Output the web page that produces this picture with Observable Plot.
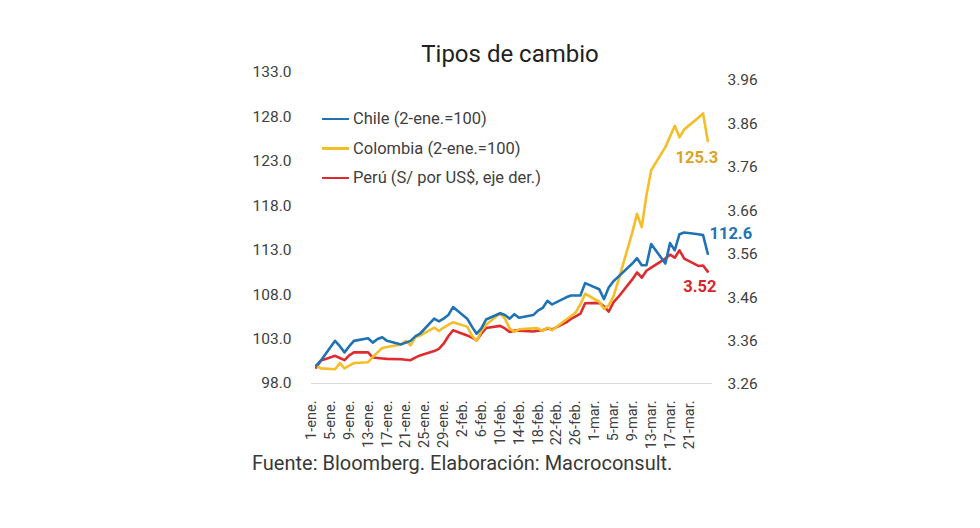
<!DOCTYPE html>
<html>
<head>
<meta charset="utf-8">
<script src="https://cdn.jsdelivr.net/npm/d3@7"></script>
<script src="https://cdn.jsdelivr.net/npm/@observablehq/plot@0.6"></script>
<style>
  html, body { margin: 0; padding: 0; background: #fff; }
  #wrap { position: relative; width: 980px; height: 528px; font-family: Roboto, "Open Sans", sans-serif; color: #333; }
  #chart { position: absolute; left: 0; top: 0; }
  #title { position: absolute; left: 360px; width: 300px; top: 40px; text-align: center; font-size: 24px; line-height: 28px; color: #222; }
  #caption { position: absolute; left: 252px; top: 452px; font-size: 20px; line-height: 22px; color: #383838; white-space: nowrap; }
  #legend { position: absolute; left: 322px; top: 104px; font-size: 16.5px; color: #404040; }
  .item { display: flex; align-items: center; height: 29.5px; white-space: nowrap; }
  .swatch { width: 27px; height: 2.5px; margin-right: 4px; }
</style>
</head>
<body>
<div id="wrap">
  <div id="chart"></div>
  <div id="title">Tipos de cambio</div>
  <div id="legend"></div>
  <div id="caption">Fuente: Bloomberg. Elaboración: Macroconsult.</div>
</div>
<script>
// ---- data ----
const dates = [
  "2020-01-02","2020-01-03","2020-01-06","2020-01-07","2020-01-08","2020-01-09","2020-01-10",
  "2020-01-13","2020-01-14","2020-01-15","2020-01-16","2020-01-17","2020-01-20","2020-01-21",
  "2020-01-22","2020-01-23","2020-01-24","2020-01-27","2020-01-28","2020-01-29","2020-01-30","2020-01-31",
  "2020-02-03","2020-02-04","2020-02-05","2020-02-06","2020-02-07","2020-02-10","2020-02-11",
  "2020-02-12","2020-02-13","2020-02-14","2020-02-17","2020-02-18","2020-02-19","2020-02-20",
  "2020-02-21","2020-02-24","2020-02-25","2020-02-26","2020-02-27","2020-02-28",
  "2020-03-02","2020-03-03","2020-03-04","2020-03-05","2020-03-06","2020-03-09","2020-03-10",
  "2020-03-11","2020-03-12","2020-03-13","2020-03-16","2020-03-17","2020-03-18","2020-03-19",
  "2020-03-20","2020-03-23","2020-03-24","2020-03-25"
];
const chile = [
  100.0,100.6,102.8,102.2,101.5,102.2,102.8,103.1,102.6,103.0,103.2,102.8,102.4,102.6,102.8,103.3,103.6,105.3,105.0,105.3,105.7,106.6,
  105.3,104.4,103.6,104.2,105.2,105.9,105.7,105.3,105.8,105.4,105.7,106.2,106.5,107.3,106.9,107.7,107.9,107.9,107.9,109.3,
  108.6,107.5,108.8,109.5,110.0,111.5,112.1,111.3,111.3,113.7,111.5,113.8,113.0,114.8,115.0,114.8,114.7,112.6
];
const colombia = [
  100.0,99.7,99.6,100.3,99.7,100.0,100.3,100.4,101.0,101.5,102.0,102.1,102.4,102.8,102.3,103.2,103.4,104.3,103.9,104.3,104.6,104.9,
  104.4,103.4,102.8,103.9,104.6,105.9,105.3,104.2,103.8,104.1,104.2,104.2,103.9,104.3,104.0,105.2,105.6,106.0,106.9,108.1,
  107.2,106.4,106.8,107.8,109.5,115.0,117.1,115.6,119.2,122.0,124.6,125.8,127.0,125.7,126.6,127.9,128.4,125.3
];
const peru = [
  3.299,3.315,3.326,3.321,3.316,3.327,3.334,3.334,3.322,3.321,3.320,3.319,3.318,3.317,3.316,3.322,3.327,3.337,3.342,3.354,3.371,3.385,
  3.373,3.368,3.362,3.377,3.390,3.395,3.389,3.381,3.384,3.384,3.382,3.384,3.385,3.389,3.387,3.403,3.411,3.417,3.423,3.447,
  3.448,3.440,3.428,3.449,3.461,3.502,3.518,3.506,3.522,3.529,3.550,3.559,3.552,3.569,3.550,3.533,3.534,3.520
];
const leftTicks = [98, 103, 108, 113, 118, 123, 128, 133];
const rightTicks = [3.26, 3.36, 3.46, 3.56, 3.66, 3.76, 3.86, 3.96];
const xTickDates = [
  "2020-01-01","2020-01-05","2020-01-09","2020-01-13","2020-01-17","2020-01-21","2020-01-25","2020-01-29",
  "2020-02-02","2020-02-06","2020-02-10","2020-02-14","2020-02-18","2020-02-22","2020-02-26",
  "2020-03-01","2020-03-05","2020-03-09","2020-03-13","2020-03-17","2020-03-21"
];
const monthNames = ["ene", "feb", "mar"];
const seriesNames = ["Chile (2-ene.=100)", "Colombia (2-ene.=100)", "Perú (S/ por US$, eje der.)"];
const colors = { chile: "#1F72B4", colombia: "#F5BE28", peru: "#DE2B2F" };
const labelColors = { chile: "#1F75B6", colombia: "#D9A423", peru: "#D7252B" };

// ---- secondary axis mapping (right axis drawn against left scale) ----
const right = d3.scaleLinear().domain([3.26, 3.96]).range([97.887, 132.1]);

const rows = dates.map((d, i) => ({
  date: new Date(d + "T00:00:00Z"),
  chile: chile[i],
  colombia: colombia[i],
  peru: peru[i],
  peruL: right(peru[i])
}));
const last = rows[rows.length - 1];

const fmtX = d => `${d.getUTCDate()}-${monthNames[d.getUTCMonth()]}.`;

const chart = Plot.plot({
  width: 980,
  height: 528,
  marginLeft: 311,
  marginRight: 268,
  marginTop: 72,
  marginBottom: 145,
  style: { fontFamily: "Roboto, 'Open Sans', sans-serif", fontSize: "15.5px", color: "#404040", background: "transparent", overflow: "visible" },
  x: { type: "utc", domain: [new Date("2020-01-01T00:00:00Z"), new Date("2020-03-26T00:00:00Z")] },
  y: { domain: [98, 133] },
  marks: [
    Plot.ruleY([98], { stroke: "#d9d9d9", strokeWidth: 1 }),
    Plot.axisY({ anchor: "left", ticks: leftTicks, tickSize: 0, tickPadding: 20, tickFormat: d => d.toFixed(1), label: null }),
    Plot.axisY({ anchor: "right", ticks: rightTicks.map(right), tickSize: 0, tickPadding: 15, tickFormat: d => right.invert(d).toFixed(2), label: null }),
    Plot.axisX({
      ticks: xTickDates.map(s => new Date(s + "T00:00:00Z")),
      tickSize: 0, tickPadding: 17, tickRotate: -90, tickFormat: fmtX, label: null, fontSize: 14.5
    }),
    Plot.lineY(rows, { x: "date", y: "peruL", stroke: colors.peru, strokeWidth: 2.6, strokeLinejoin: "round" }),
    Plot.lineY(rows, { x: "date", y: "colombia", stroke: colors.colombia, strokeWidth: 2.6, strokeLinejoin: "round" }),
    Plot.lineY(rows, { x: "date", y: "chile", stroke: colors.chile, strokeWidth: 2.6, strokeLinejoin: "round" }),
    Plot.text([last], { x: "date", y: "colombia", text: d => d.colombia.toFixed(1), dx: -11, dy: 17, fill: labelColors.colombia, fontWeight: "bold", fontSize: 16.5 }),
    Plot.text([last], { x: "date", y: "chile", text: d => d.chile.toFixed(1), dx: 23, dy: -20, fill: labelColors.chile, fontWeight: "bold", fontSize: 16.5 }),
    Plot.text([last], { x: "date", y: "peruL", text: d => d.peru.toFixed(2), dx: -8, dy: 15, fill: labelColors.peru, fontWeight: "bold", fontSize: 16.5 })
  ]
});
document.getElementById("chart").appendChild(chart);

const legend = document.getElementById("legend");
[colors.chile, colors.colombia, colors.peru].forEach((c, i) => {
  const item = document.createElement("div");
  item.className = "item";
  const sw = document.createElement("span");
  sw.className = "swatch";
  sw.style.background = c;
  const t = document.createElement("span");
  t.textContent = seriesNames[i];
  item.appendChild(sw);
  item.appendChild(t);
  legend.appendChild(item);
});
</script>
</body>
</html>
